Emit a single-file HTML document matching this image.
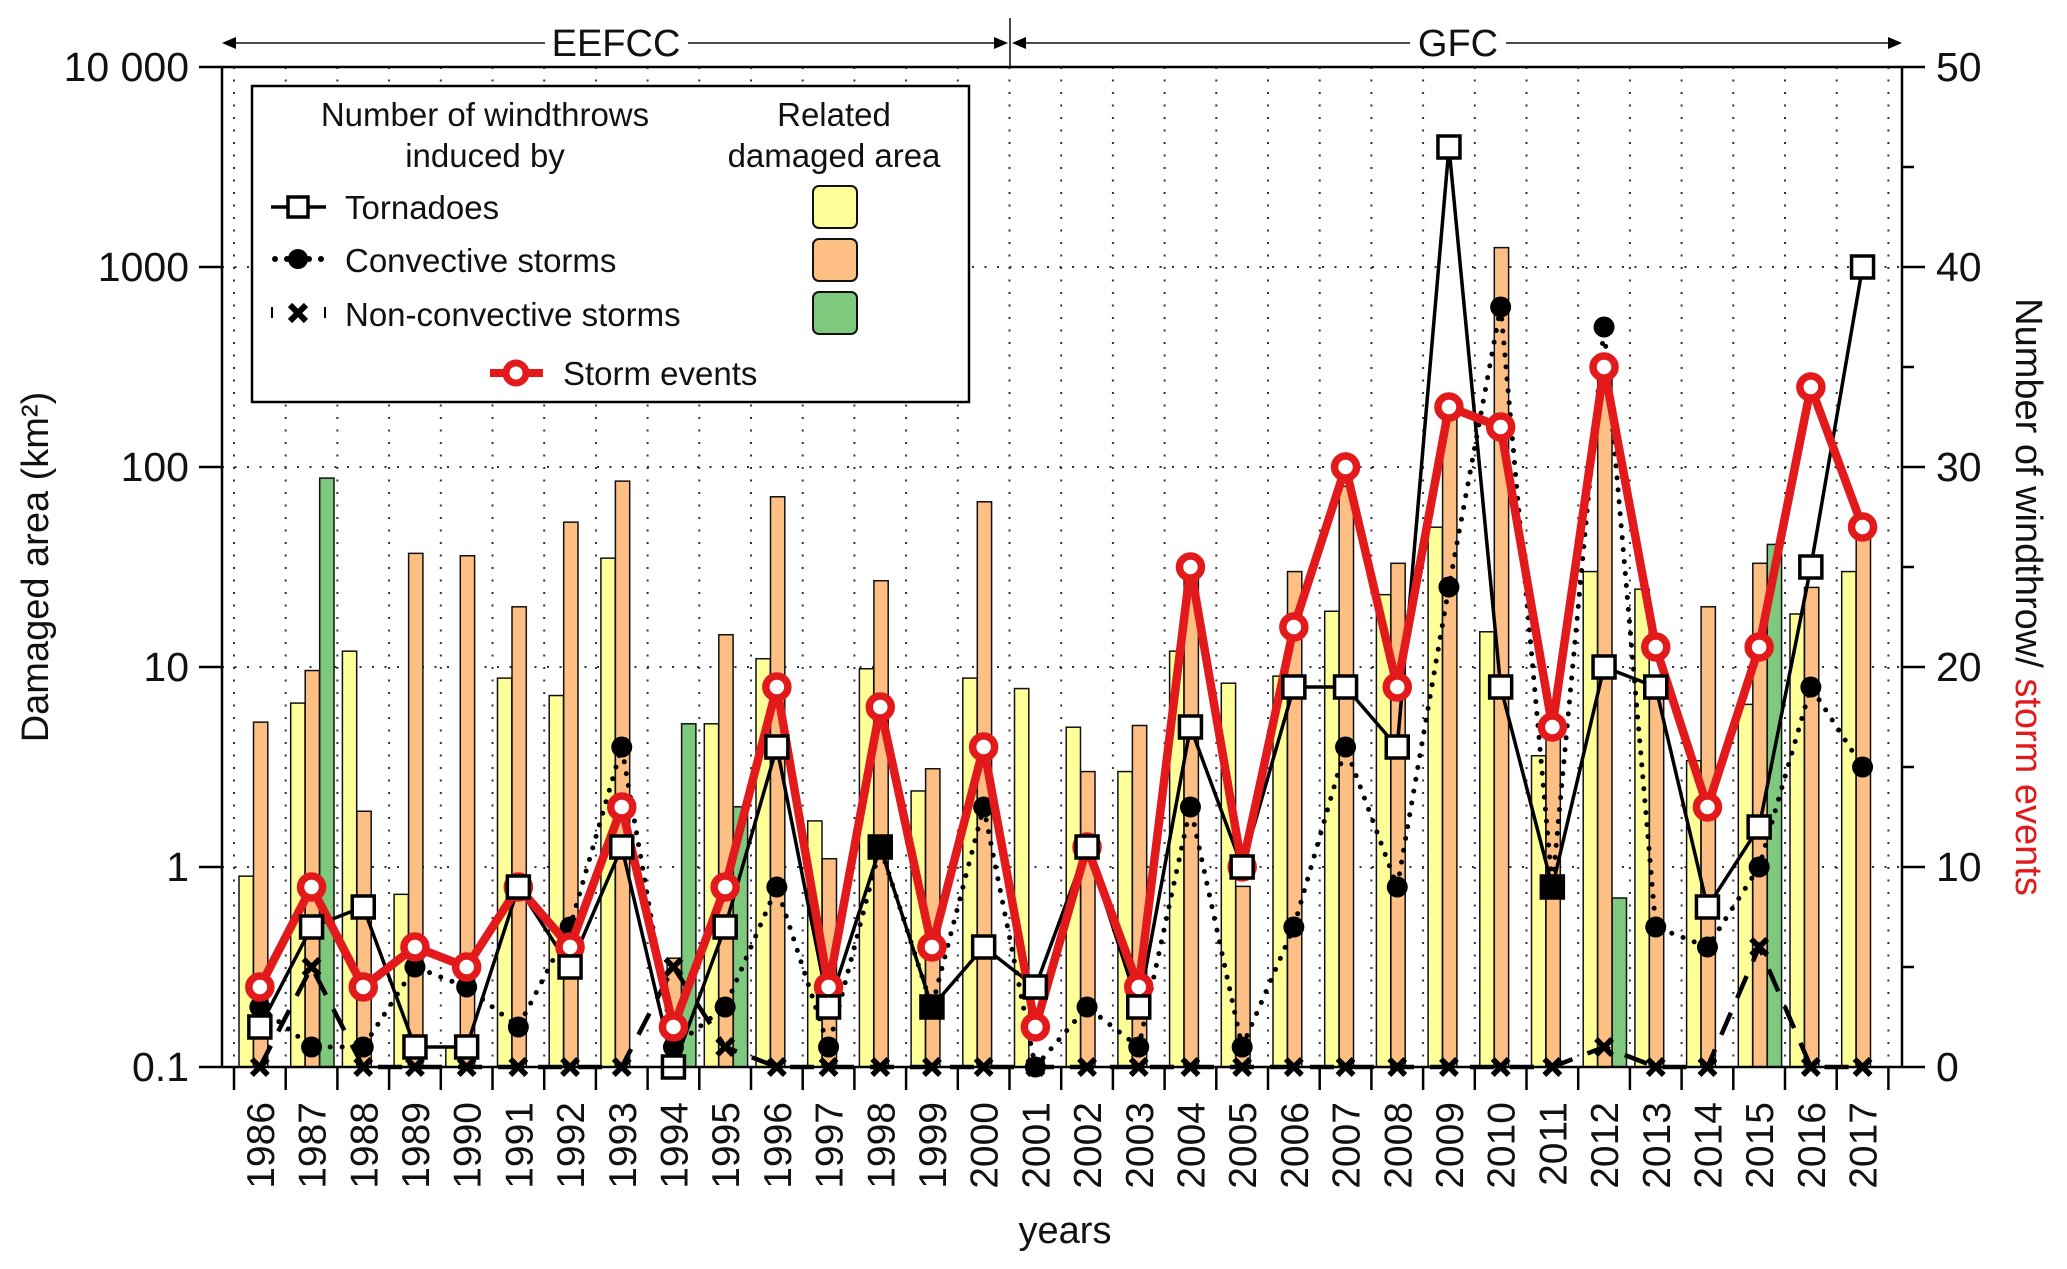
<!DOCTYPE html>
<html><head><meta charset="utf-8">
<style>
html,body{margin:0;padding:0;background:#fff;}
svg{display:block;font-family:"Liberation Sans",sans-serif;}
</style></head>
<body>
<svg id="chart" width="2067" height="1269" viewBox="0 0 2067 1269" xmlns="http://www.w3.org/2000/svg"></svg>
<script>
const years=[1986,1987,1988,1989,1990,1991,1992,1993,1994,1995,1996,1997,1998,1999,2000,2001,2002,2003,2004,2005,2006,2007,2008,2009,2010,2011,2012,2013,2014,2015,2016,2017];
const areaTornado=[0.9,6.6,12,0.73,0.126,8.8,7.2,35,null,5.2,11,1.7,9.8,2.4,8.8,7.8,5.0,3.0,12,8.3,9,19,23,50,15,3.6,30,24.5,3.4,6.5,18.4,30];
const areaConvective=[5.3,9.6,1.9,37,36,20,53,85,0.35,14.5,71,1.1,27,3.1,67,null,3.0,5.1,30,0.8,30,80,33,180,1250,4.5,320,8,20,33,25,45];
const areaNonConvective=[null,88,null,null,null,null,null,null,5.2,2.0,null,null,null,null,null,null,null,null,null,null,null,null,null,null,null,null,0.7,null,null,41,null,null];
const nTornado=[2,7,8,1,1,9,5,11,0,7,16,3,11,3,6,4,11,3,17,10,19,19,16,46,19,9,20,19,8,12,25,40];
const nConvective=[3,1,1,5,4,2,7,16,1,3,9,1,11,3,13,0,3,1,13,1,7,16,9,24,38,9,37,7,6,10,19,15];
const nNonConvective=[0,5,0,0,0,0,0,0,5,1,0,0,0,0,0,0,0,0,0,0,0,0,0,0,0,0,1,0,0,6,0,0];
const nStorms=[4,9,4,6,5,9,6,13,2,9,19,4,18,6,16,2,11,4,25,10,22,30,19,33,32,17,35,21,13,21,34,27];
const leftTicks=[0.1,1,10,100,1000,10000];
const leftTickLabels=["0.1","1","10","100","1000","10 000"];
const rightTicks=[0,10,20,30,40,50];

const NS="http://www.w3.org/2000/svg";
const svg=document.getElementById('chart');
const X0=222,X1=1902,Y0=67,Y1=1067,SLOT0=234,SLOT=51.7;
function yLog(v){return Y1-(Math.log10(v)+1)*200;}
function yR(v){return Y1-v*20;}
function slotLeft(i){return SLOT0+i*SLOT;}
function xC(i){return slotLeft(i)+SLOT/2;}
function mk(tag,attrs,parent){const e=document.createElementNS(NS,tag);for(const k in attrs)e.setAttribute(k,attrs[k]);(parent||svg).appendChild(e);return e;}
function txt(s,attrs,parent){const e=mk('text',attrs,parent);e.textContent=s;return e;}

// grid
const grid=mk('g',{});


for(let k=0;k<=32;k++){const x=slotLeft(k);if(x>X1)break;mk('line',{x1:x,y1:Y0,x2:x,y2:Y1,stroke:'#333','stroke-width':2,'stroke-dasharray':'2 10.5'},grid);}
leftTicks.forEach(v=>{const y=yLog(v);mk('line',{x1:X0,y1:y,x2:X1,y2:y,stroke:'#333','stroke-width':2,'stroke-dasharray':'2 10.5'},grid);});

// bars
const bars=mk('g',{});


function bar(i,v,off,color,name){if(v==null)return;const y=yLog(v);const b=mk('rect',{x:slotLeft(i)+off,y:y,width:14.3,height:Y1-y,fill:color,stroke:'#111','stroke-width':1.5},bars);

}
years.forEach((yr,i)=>{bar(i,areaTornado[i],5,'#ffff99','bar-tornado');bar(i,areaConvective[i],19.5,'#fdbf84','bar-convective');bar(i,areaNonConvective[i],34,'#7fc97f','bar-nonconvective');});

// lines
function poly(arr,attrs,name){const pts=arr.map((v,i)=>xC(i)+','+yR(v)).join(' ');const p=mk('polyline',Object.assign({points:pts,fill:'none'},attrs));

return p;}
poly(nNonConvective,{stroke:'#000','stroke-width':4.5,'stroke-dasharray':'24 16'},'nonconvective-line');
nNonConvective.forEach((v,i)=>{const x=xC(i),y=yR(v);const g=mk('g',{});


mk('path',{d:`M${x-8},${y-8}L${x+8},${y+8}M${x+8},${y-8}L${x-8},${y+8}`,stroke:'#000','stroke-width':5.5},g);});
poly(nConvective,{stroke:'#000','stroke-width':5,'stroke-dasharray':'0 12','stroke-linecap':'round'},'convective-line');
nConvective.forEach((v,i)=>{const c=mk('circle',{cx:xC(i),cy:yR(v),r:10.5,fill:'#000'});

});
poly(nTornado,{stroke:'#000','stroke-width':3.5},'tornado-line');
poly(nStorms,{stroke:'#e31a1c','stroke-width':8.5,'stroke-linejoin':'miter'},'storm-events-line');
nStorms.forEach((v,i)=>{const c=mk('circle',{cx:xC(i),cy:yR(v),r:11,fill:'#fff',stroke:'#e31a1c','stroke-width':7.5});

});
nTornado.forEach((v,i)=>{const filled=(v===nConvective[i]);const r=mk('rect',{x:xC(i)-11,y:yR(v)-11,width:22,height:22,fill:filled?'#000':'#fff',stroke:'#000','stroke-width':3.5});

});

// axes
const axes=mk('g',{});


mk('line',{x1:X0,y1:Y0,x2:X1,y2:Y0,stroke:'#000','stroke-width':2.5},axes);
mk('line',{x1:X0,y1:Y1,x2:X1,y2:Y1,stroke:'#000','stroke-width':2.5},axes);
mk('line',{x1:X0,y1:Y0,x2:X0,y2:Y1,stroke:'#000','stroke-width':2.5},axes);
mk('line',{x1:X1,y1:Y0,x2:X1,y2:Y1,stroke:'#000','stroke-width':2.5},axes);
leftTicks.forEach((v,k)=>{const y=yLog(v);mk('line',{x1:X0-23,y1:y,x2:X0,y2:y,stroke:'#000','stroke-width':2.5},axes);
const t=txt(leftTickLabels[k],{x:X0-33,y:y+14,'font-size':41,'text-anchor':'end',fill:'#111'},axes);

});
for(let v=0;v<=50;v+=5){const y=yR(v);mk('line',{x1:X1,y1:y,x2:X1+(v%10===0?23:12),y2:y,stroke:'#000','stroke-width':2.5},axes);}
rightTicks.forEach(v=>{const t=txt(String(v),{x:X1+34,y:yR(v)+14,'font-size':41,fill:'#111'},axes);

});
for(let k=0;k<=32;k++){const x=slotLeft(k);if(x>X1)break;mk('line',{x1:x,y1:Y1,x2:x,y2:Y1+23,stroke:'#000','stroke-width':2.5},axes);}
years.forEach((yr,i)=>{const x=xC(i)+14,y=Y1+35;const t=txt(String(yr),{x:x,y:y,'font-size':39,'text-anchor':'end',transform:`rotate(-90 ${x} ${y})`,fill:'#111'},axes);

});
</script>
<svg width="0" height="0"></svg>
<script>
// static labels
(function(){
const NS="http://www.w3.org/2000/svg";const svg=document.getElementById('chart');
svg.insertAdjacentHTML('beforeend',`
<g fill="#111" font-size="38">
<line x1="232" y1="43" x2="545" y2="43" stroke="#333" stroke-width="1.8"/>
<path d="M222,43 L236,37 L236,49 Z" fill="#000"/>
<line x1="688" y1="43" x2="998" y2="43" stroke="#333" stroke-width="1.8"/>
<path d="M1008,43 L994,37 L994,49 Z" fill="#000"/>
<line x1="1010" y1="18" x2="1010" y2="66" stroke="#333" stroke-width="1.8"/>
<line x1="1022" y1="43" x2="1410" y2="43" stroke="#333" stroke-width="1.8"/>
<path d="M1012,43 L1026,37 L1026,49 Z" fill="#000"/>
<line x1="1506" y1="43" x2="1890" y2="43" stroke="#333" stroke-width="1.8"/>
<path d="M1902,43 L1888,37 L1888,49 Z" fill="#000"/>
<text x="616" y="56" text-anchor="middle">EEFCC</text>
<text x="1458" y="56" text-anchor="middle">GFC</text>
</g>
<text x="48" y="567" font-size="38" text-anchor="middle" transform="rotate(-90 48 567)" fill="#111">Damaged area (km²)</text>
<text x="2016" y="597" font-size="38" text-anchor="middle" transform="rotate(90 2016 597)" fill="#111">Number of windthrow/ <tspan fill="#e31a1c">storm events</tspan></text>
<text x="1065" y="1243" font-size="38" text-anchor="middle" fill="#111">years</text>
<g font-size="33" fill="#111">
<rect x="252" y="86" width="717" height="316" fill="#fff" stroke="#000" stroke-width="2.5"/>
<text x="485" y="126" text-anchor="middle">Number of windthrows</text>
<text x="485" y="167" text-anchor="middle">induced by</text>
<text x="834" y="126" text-anchor="middle">Related</text>
<text x="834" y="167" text-anchor="middle">damaged area</text>
<g>
<line x1="271" y1="207" x2="326" y2="207" stroke="#000" stroke-width="3.5"/>
<rect x="288" y="197" width="20" height="20" fill="#fff" stroke="#000" stroke-width="3.5"/>
<text x="345" y="219">Tornadoes</text>
<rect x="813" y="186" width="44" height="42" rx="6" fill="#ffff99" stroke="#111" stroke-width="2"/>
</g>
<g>
<circle cx="275" cy="259" r="3" fill="#000"/><circle cx="321" cy="259" r="3" fill="#000"/><circle cx="287" cy="259" r="3" fill="#000"/><circle cx="309" cy="259" r="3" fill="#000"/>
<circle cx="298" cy="259" r="10" fill="#000"/>
<text x="345" y="272">Convective storms</text>
<rect x="813" y="239" width="44" height="42" rx="6" fill="#fdbf84" stroke="#111" stroke-width="2"/>
</g>
<g>
<line x1="272" y1="307" x2="272" y2="318" stroke="#000" stroke-width="2"/>
<line x1="325" y1="307" x2="325" y2="318" stroke="#000" stroke-width="2"/>
<path d="M290,305 L306,321 M306,305 L290,321" stroke="#000" stroke-width="6"/>
<text x="345" y="326">Non-convective storms</text>
<rect x="813" y="292" width="44" height="42" rx="6" fill="#7fc97f" stroke="#111" stroke-width="2"/>
</g>
<g>
<line x1="490" y1="373" x2="543" y2="373" stroke="#e31a1c" stroke-width="8"/>
<circle cx="516" cy="373" r="10" fill="#fff" stroke="#e31a1c" stroke-width="7"/>
<text x="563" y="385">Storm events</text>
</g>
</g>`);
})();
</script>
</body></html>
